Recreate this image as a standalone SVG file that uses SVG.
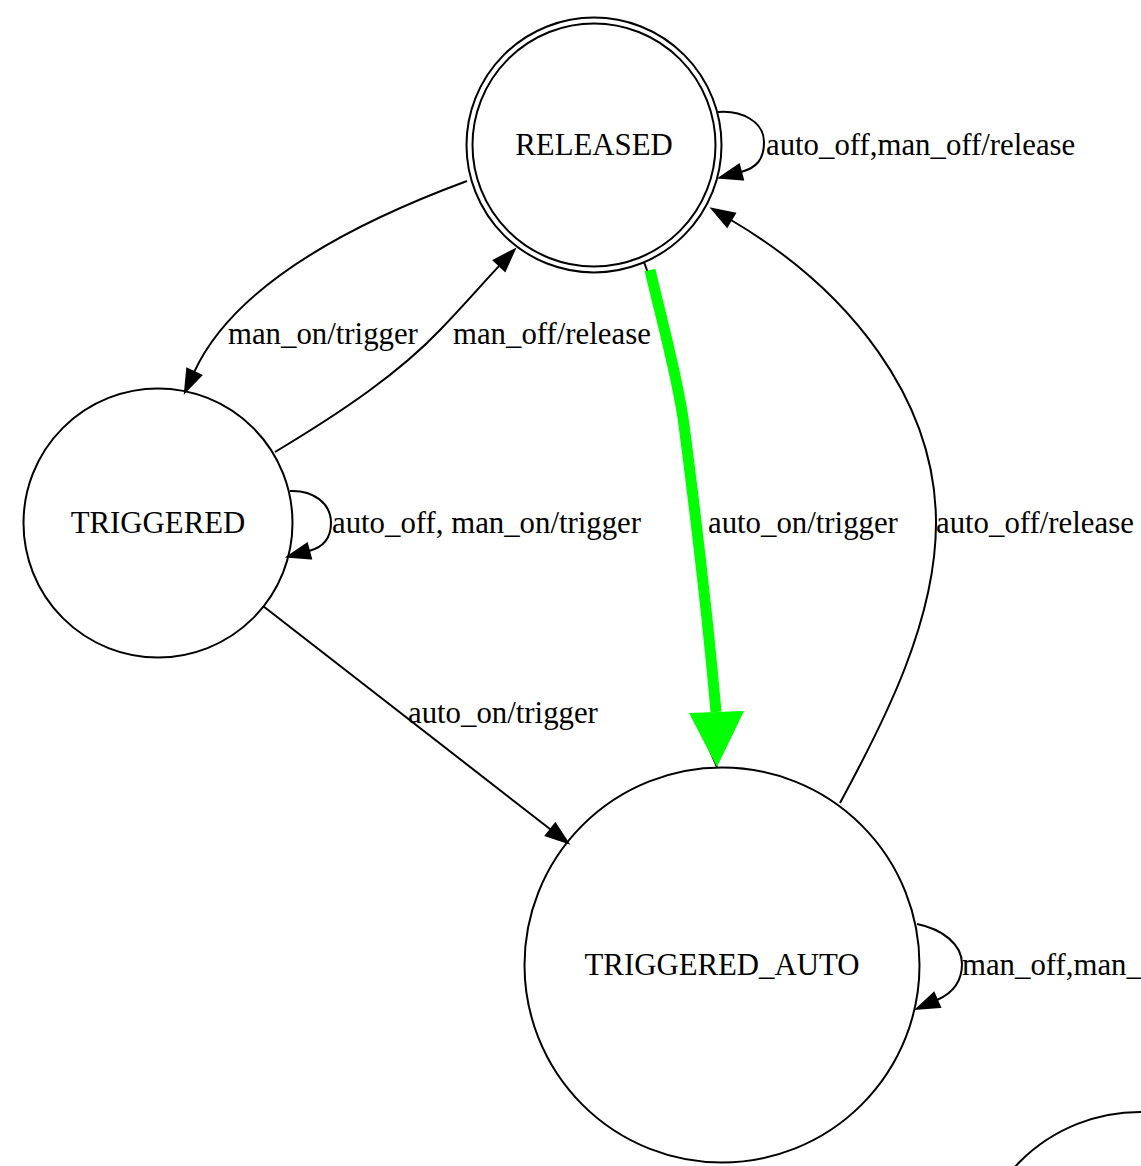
<svg xmlns="http://www.w3.org/2000/svg" width="1141" height="1166" viewBox="0 0 1141 1166">
  <style>
    .node { fill: none; stroke: #000; stroke-width: 2; }
    .edge { fill: none; stroke: #000; stroke-width: 2; }
    .hot { fill: none; stroke: #00ff00; stroke-width: 11; }
    text { font-family: "Liberation Serif", "Times New Roman", serif; font-size: 30.8px; fill: #000; }
    .nlabel { text-anchor: middle; }
  </style>
  <defs>
    <marker id="arrow" markerUnits="userSpaceOnUse" viewBox="0 -9 24 18" refX="0" refY="0" markerWidth="24" markerHeight="18" orient="auto" overflow="visible">
      <path d="M0,-7.7 L22,0 L0,7.7 Z" fill="#000" stroke="#000" stroke-width="2"/>
    </marker>
  </defs>

  <rect width="1141" height="1166" fill="#fff"/>

  <g id="edges">
    <!-- RELEASED -> TRIGGERED -->
    <g id="e-released-triggered">
      <path class="edge" d="M467,181 C340,228 232,290 194.2,372" marker-end="url(#arrow)"/>
      <text x="228" y="344">man_on/trigger</text>
    </g>
    <!-- TRIGGERED -> RELEASED -->
    <g id="e-triggered-released">
      <path class="edge" d="M275,452 C345,410 400,372 440,330 C465,304 483,283 499.4,265.6" marker-end="url(#arrow)"/>
      <text x="453" y="344">man_off/release</text>
    </g>
    <!-- RELEASED self loop -->
    <g id="e-released-self">
      <path class="edge" d="M718,112 C742,110 764,122 764,142 C764,160 756,168 741,172" marker-end="url(#arrow)"/>
      <text x="766" y="155">auto_off,man_off/release</text>
    </g>
    <!-- TRIGGERED self loop -->
    <g id="e-triggered-self">
      <path class="edge" d="M290,491 C313,490 331,503 331,523 C331,538 324,547 309,551" marker-end="url(#arrow)"/>
      <text x="332" y="533">auto_off, man_on/trigger</text>
    </g>
    <!-- RELEASED -> TRIGGERED_AUTO (highlighted) -->
    <g id="e-released-auto">
      <path class="edge" d="M644,262 L648,273"/>
      <path class="edge" d="M708,746 L717,767"/>
      <path class="hot" d="M650,270 C662,322 678,378 684,425 C693,495 708,620 716,712"/>
      <polygon points="689,713 744,711 717,767" fill="#00ff00"/>
      <text x="708" y="533">auto_on/trigger</text>
    </g>
    <!-- TRIGGERED_AUTO -> RELEASED -->
    <g id="e-auto-released">
      <path class="edge" d="M840,803 C885,720 936,620 936,523 C936,400 850,290 731,220" marker-end="url(#arrow)"/>
      <text x="936" y="533">auto_off/release</text>
    </g>
    <!-- TRIGGERED -> TRIGGERED_AUTO -->
    <g id="e-triggered-auto">
      <path class="edge" d="M263,606 L550.6,829.5" marker-end="url(#arrow)"/>
      <text x="408" y="723">auto_on/trigger</text>
    </g>
    <!-- TRIGGERED_AUTO self loop -->
    <g id="e-auto-self">
      <path class="edge" d="M917,924 C942,929 962,944 962,964 C962,981 953,993 937,1000" marker-end="url(#arrow)"/>
      <text x="962" y="975">man_off,man_</text>
    </g>
  </g>

  <g id="node-released">
    <circle class="node" cx="594" cy="145" r="127.5"/>
    <circle class="node" cx="594" cy="145" r="121.5"/>
    <text class="nlabel" x="594" y="155">RELEASED</text>
  </g>
  <g id="node-triggered">
    <circle class="node" cx="158" cy="523" r="134.5"/>
    <text class="nlabel" x="158" y="533">TRIGGERED</text>
  </g>
  <g id="node-triggered-auto">
    <circle class="node" cx="722" cy="965" r="197.5"/>
    <text class="nlabel" x="722" y="975">TRIGGERED_AUTO</text>
  </g>
  <g id="node-offscreen">
    <circle class="node" cx="1140" cy="1282" r="170"/>
  </g>
</svg>
